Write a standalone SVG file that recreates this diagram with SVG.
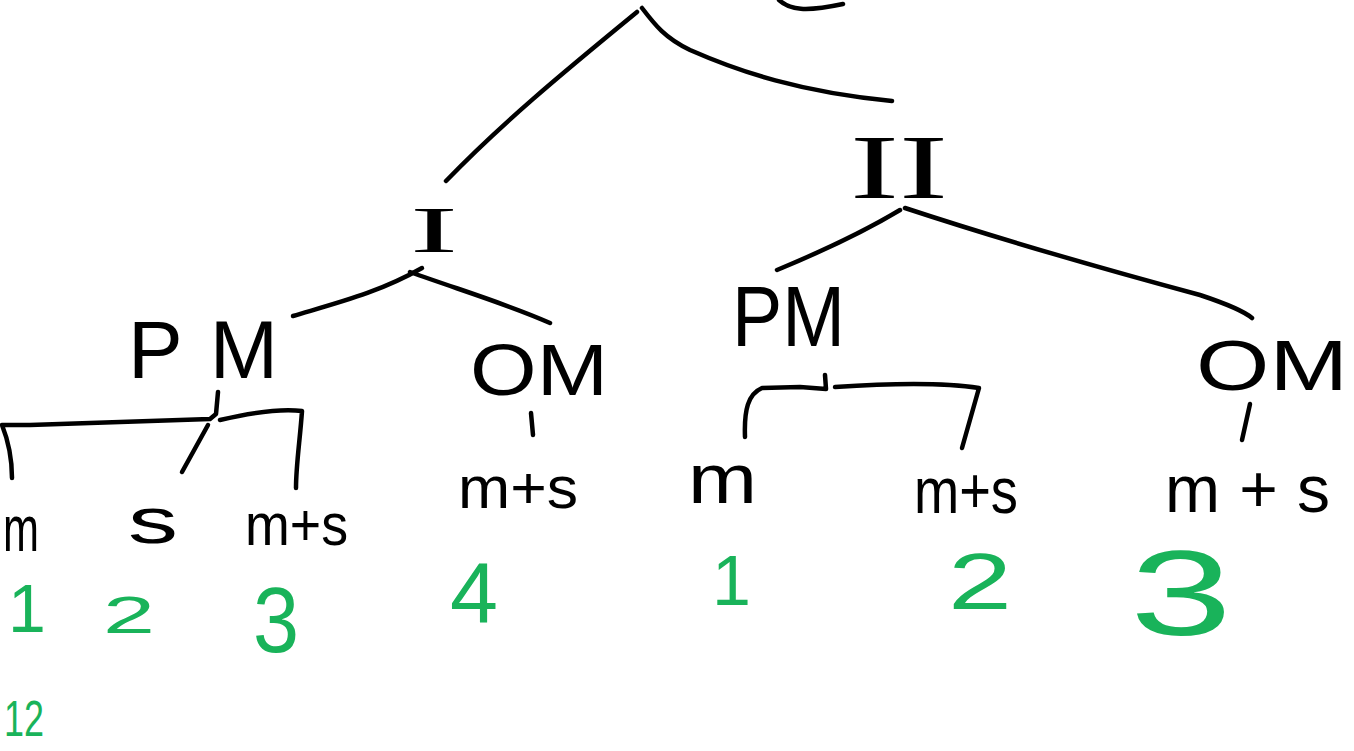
<svg xmlns="http://www.w3.org/2000/svg" width="1354" height="751" viewBox="0 0 1354 751">
  <style>
    .ink { fill: none; stroke: #000; stroke-width: 4.5; stroke-linecap: round; stroke-linejoin: round; }
    .lbl { font-family: "Liberation Sans", Arial, sans-serif; fill: #000; }
    .rom { font-family: "Liberation Serif", "Times New Roman", serif; fill: #000; }
    .num { font-family: "Liberation Sans", Arial, sans-serif; fill: #19b35a; }
  </style>
  <rect width="1354" height="751" fill="#fff"/>

  <!-- tree branches -->
  <g id="connectors" class="ink">
    <path d="M446,181 C500,125 560,75 637,12"/>
    <path d="M642,8 C655,25 665,38 690,50 C740,72 800,92 892,101"/>
    <path d="M779,0 C790,10 805,12 843,4"/>
    <path d="M293,316 C340,302 380,292 422,268"/>
    <path d="M410,272 C460,290 510,305 550,323"/>
    <path d="M777,270 C830,248 870,228 900,210"/>
    <path d="M905,208 C990,236 1100,268 1200,295 C1230,305 1245,312 1252,318"/>
    <!-- PM (I) bracket -->
    <path d="M218,392 L216,414 L210,419 L30,425 L2,425 C8,440 12,460 12,478"/>
    <path d="M220,420 C250,413 280,408 302,411 C300,440 296,465 296,488"/>
    <path d="M208,425 L182,472"/>
    <!-- OM (I) stem -->
    <path d="M531,413 L533,435"/>
    <!-- PM (II) bracket -->
    <path d="M825,375 L826,389 L800,387 L762,388 C748,394 744,410 745,437"/>
    <path d="M835,387 C880,384 940,382 979,388 L962,448"/>
    <!-- OM (II) stem -->
    <path d="M1250,404 L1242,440"/>
  </g>

  <g id="node-root-I"><text class="rom" x="410" y="252" font-size="66" textLength="48" lengthAdjust="spacingAndGlyphs">I</text></g>
  <g id="node-root-II"><text class="rom" x="850" y="198" font-size="92" textLength="98" lengthAdjust="spacingAndGlyphs">II</text></g>

  <g id="node-I-PM"><text class="lbl" x="128" y="378" font-size="82" textLength="150" lengthAdjust="spacing">PM</text></g>
  <g id="node-I-OM"><text class="lbl" x="470" y="395" font-size="72" textLength="138" lengthAdjust="spacingAndGlyphs">OM</text></g>
  <g id="node-II-PM"><text class="lbl" x="732" y="346" font-size="86" textLength="113" lengthAdjust="spacingAndGlyphs">PM</text></g>
  <g id="node-II-OM"><text class="lbl" x="1196" y="390" font-size="70" textLength="152" lengthAdjust="spacingAndGlyphs">OM</text></g>

  <g id="node-I-PM-m"><text class="lbl" x="3" y="551" font-size="64" textLength="36" lengthAdjust="spacingAndGlyphs">m</text></g>
  <g id="node-I-PM-s"><text class="lbl" x="128" y="543" font-size="64" textLength="50" lengthAdjust="spacingAndGlyphs">s</text></g>
  <g id="node-I-PM-ms"><text class="lbl" x="245" y="545" font-size="60" textLength="103" lengthAdjust="spacingAndGlyphs">m+s</text></g>
  <g id="node-I-OM-ms"><text class="lbl" x="458" y="508" font-size="60" textLength="120" lengthAdjust="spacingAndGlyphs">m+s</text></g>
  <g id="node-II-PM-m"><text class="lbl" x="688" y="503" font-size="70" textLength="69" lengthAdjust="spacingAndGlyphs">m</text></g>
  <g id="node-II-PM-ms"><text class="lbl" x="914" y="513" font-size="64" textLength="104" lengthAdjust="spacingAndGlyphs">m+s</text></g>
  <g id="node-II-OM-ms"><text class="lbl" x="1165" y="512" font-size="66" textLength="165" lengthAdjust="spacing">m + s</text></g>

  <g id="counts">
    <text class="num" x="8" y="632" font-size="68">1</text>
    <text class="num" x="103" y="633" font-size="52" textLength="52" lengthAdjust="spacingAndGlyphs">2</text>
    <text class="num" x="253" y="652" font-size="92" textLength="46" lengthAdjust="spacingAndGlyphs">3</text>
    <text class="num" x="450" y="622" font-size="86" textLength="48" lengthAdjust="spacingAndGlyphs">4</text>
    <text class="num" x="712" y="605" font-size="70">1</text>
    <text class="num" x="948" y="609" font-size="80" textLength="64" lengthAdjust="spacingAndGlyphs">2</text>
    <text class="num" x="1130" y="635" font-size="120" textLength="102" lengthAdjust="spacingAndGlyphs">3</text>
    <text class="num" x="4" y="736" font-size="50" textLength="40" lengthAdjust="spacingAndGlyphs">12</text>
  </g>
</svg>
